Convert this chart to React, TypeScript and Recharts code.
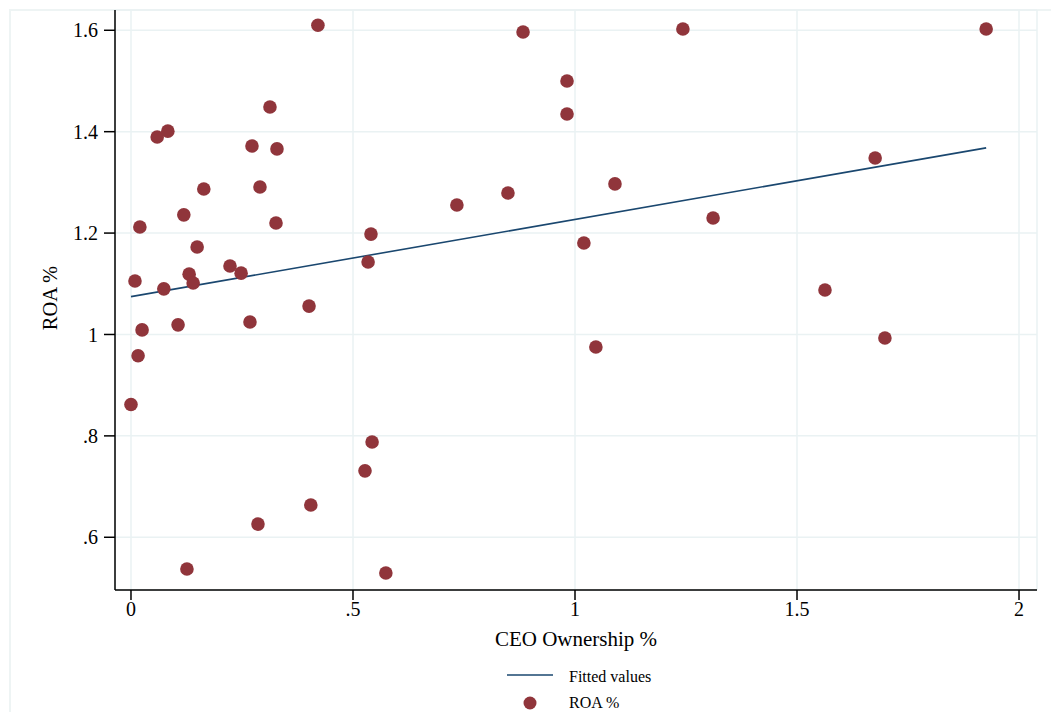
import React from "react";
import {
  ComposedChart,
  Scatter,
  Line,
  XAxis,
  YAxis,
  CartesianGrid,
  Legend,
} from "recharts";

const ownership = [
  0.0, 0.009, 0.016, 0.02, 0.025, 0.059, 0.074, 0.083, 0.106, 0.119, 0.126, 0.131,
  0.14, 0.149, 0.164, 0.223, 0.248, 0.268, 0.2725, 0.286, 0.2905, 0.313, 0.3266,
  0.3288, 0.401, 0.405, 0.421, 0.527, 0.534, 0.5405, 0.543, 0.574, 0.734, 0.849,
  0.883, 0.982, 0.982, 1.02, 1.047, 1.09, 1.243, 1.311, 1.563, 1.676, 1.698, 1.926,
];
const roa = [
  0.862, 1.1055, 0.958, 1.212, 1.009, 1.3895, 1.09, 1.401, 1.019, 1.236, 0.5375, 1.119,
  1.1015, 1.1726, 1.287, 1.135, 1.121, 1.0247, 1.3718, 0.626, 1.291, 1.4487, 1.2199,
  1.366, 1.056, 0.6637, 1.61, 0.731, 1.143, 1.198, 0.788, 0.5296, 1.2554, 1.279,
  1.5966, 1.5, 1.435, 1.1805, 0.9754, 1.297, 1.6026, 1.2298, 1.0878, 1.348, 0.993, 1.6026,
];
const fittedX = [0.0, 1.926];
const fittedY = [1.0746, 1.368];

const xTicks = [0, 0.5, 1, 1.5, 2];
const xTickLabels = ["0", ".5", "1", "1.5", "2"];
const yTicks = [0.6, 0.8, 1, 1.2, 1.4, 1.6];
const yTickLabels = [".6", ".8", "1", "1.2", "1.4", "1.6"];

const xTitle = "CEO Ownership %";
const yTitle = "ROA %";
const fitName = "Fitted values";
const scatterName = "ROA %";

const points = ownership.map((x, i) => ({ x, y: roa[i] }));
const fitted = fittedX.map((x, i) => ({ x, y: fittedY[i] }));

const FONT = "'Liberation Serif', 'Times New Roman', serif";
const MAROON = "#90353b";
const NAVY = "#1a476f";
const GRID = "#eaf2f3";

const XTitle = (props: any) => {
  const vb = props.viewBox || { x: 115, y: 590, width: 922, height: 72 };
  return (
    <text
      x={vb.x + vb.width / 2}
      y={vb.y + 56}
      textAnchor="middle"
      fontFamily={FONT}
      fontSize={21}
      fill="#000"
    >
      {xTitle}
    </text>
  );
};

const YTitle = (props: any) => {
  const vb = props.viewBox || { x: 0, y: 10, width: 115, height: 580 };
  const cx = vb.x + 57;
  const cy = vb.y + vb.height / 2 - 2;
  return (
    <text
      x={cx}
      y={cy}
      transform={`rotate(-90, ${cx}, ${cy})`}
      textAnchor="middle"
      fontFamily={FONT}
      fontSize={20.5}
      fill="#000"
    >
      {yTitle}
    </text>
  );
};

const LegendContent = () => (
  <svg width={1051} height={50} style={{ display: "block" }}>
    <line x1={507} x2={553} y1={13} y2={13} stroke={NAVY} strokeWidth={1.6} />
    <text x={569} y={20} fontFamily={FONT} fontSize={16} fill="#000">
      {fitName}
    </text>
    <circle cx={530} cy={41} r={6.5} fill={MAROON} />
    <text x={569} y={46} fontFamily={FONT} fontSize={16} fill="#000">
      {scatterName}
    </text>
  </svg>
);

const Dot = (props: any) => {
  const { cx, cy } = props;
  if (cx == null || cy == null) return null;
  return <circle cx={cx} cy={cy} r={6.8} fill={MAROON} />;
};

export default function App() {
  return (
    <div
      style={{
        position: "absolute",
        left: 0,
        top: 0,
        width: 1051,
        height: 712,
        background: "#fff",
      }}
    >
      <div
        style={{
          position: "absolute",
          left: 9,
          top: 9,
          width: 1100,
          height: 800,
          borderLeft: "2px solid #eef4f4",
          borderTop: "2px solid #eef4f4",
          boxSizing: "border-box",
        }}
      />
      <div style={{ position: "absolute", left: 0, top: 0 }}>
        <ComposedChart
          width={1051}
          height={712}
          margin={{ top: 10, right: 14, left: 0, bottom: 0 }}
        >
          <CartesianGrid stroke={GRID} strokeWidth={1.5} />
          <XAxis
            type="number"
            dataKey="x"
            domain={[-0.036, 2.0405]}
            allowDataOverflow
            ticks={xTicks}
            tickFormatter={(v: number) => xTickLabels[xTicks.indexOf(v)] ?? String(v)}
            height={72}
            tickSize={10}
            tickMargin={2}
            axisLine={{ stroke: "#000", strokeWidth: 1.5 }}
            tickLine={{ stroke: "#000", strokeWidth: 1.5 }}
            tick={{ fontFamily: FONT, fontSize: 20, fill: "#000" }}
            label={<XTitle />}
          />
          <YAxis
            type="number"
            dataKey="y"
            domain={[0.496, 1.64]}
            allowDataOverflow
            ticks={yTicks}
            tickFormatter={(v: number) => yTickLabels[yTicks.indexOf(v)] ?? String(v)}
            width={115}
            tickSize={11}
            tickMargin={6}
            axisLine={{ stroke: "#000", strokeWidth: 1.5 }}
            tickLine={{ stroke: "#000", strokeWidth: 1.5 }}
            tick={{ fontFamily: FONT, fontSize: 20, fill: "#000" }}
            label={<YTitle />}
          />
          <Legend
            verticalAlign="bottom"
            content={<LegendContent />}
            wrapperStyle={{ left: 0, bottom: 0, width: 1051, height: 50 }}
          />
          <Line
            data={fitted}
            dataKey="y"
            name={fitName}
            stroke={NAVY}
            strokeWidth={1.6}
            dot={false}
            activeDot={false}
            isAnimationActive={false}
            type="linear"
          />
          <Scatter
            data={points}
            dataKey="y"
            name={scatterName}
            fill={MAROON}
            shape={<Dot />}
            isAnimationActive={false}
          />
        </ComposedChart>
      </div>
    </div>
  );
}
